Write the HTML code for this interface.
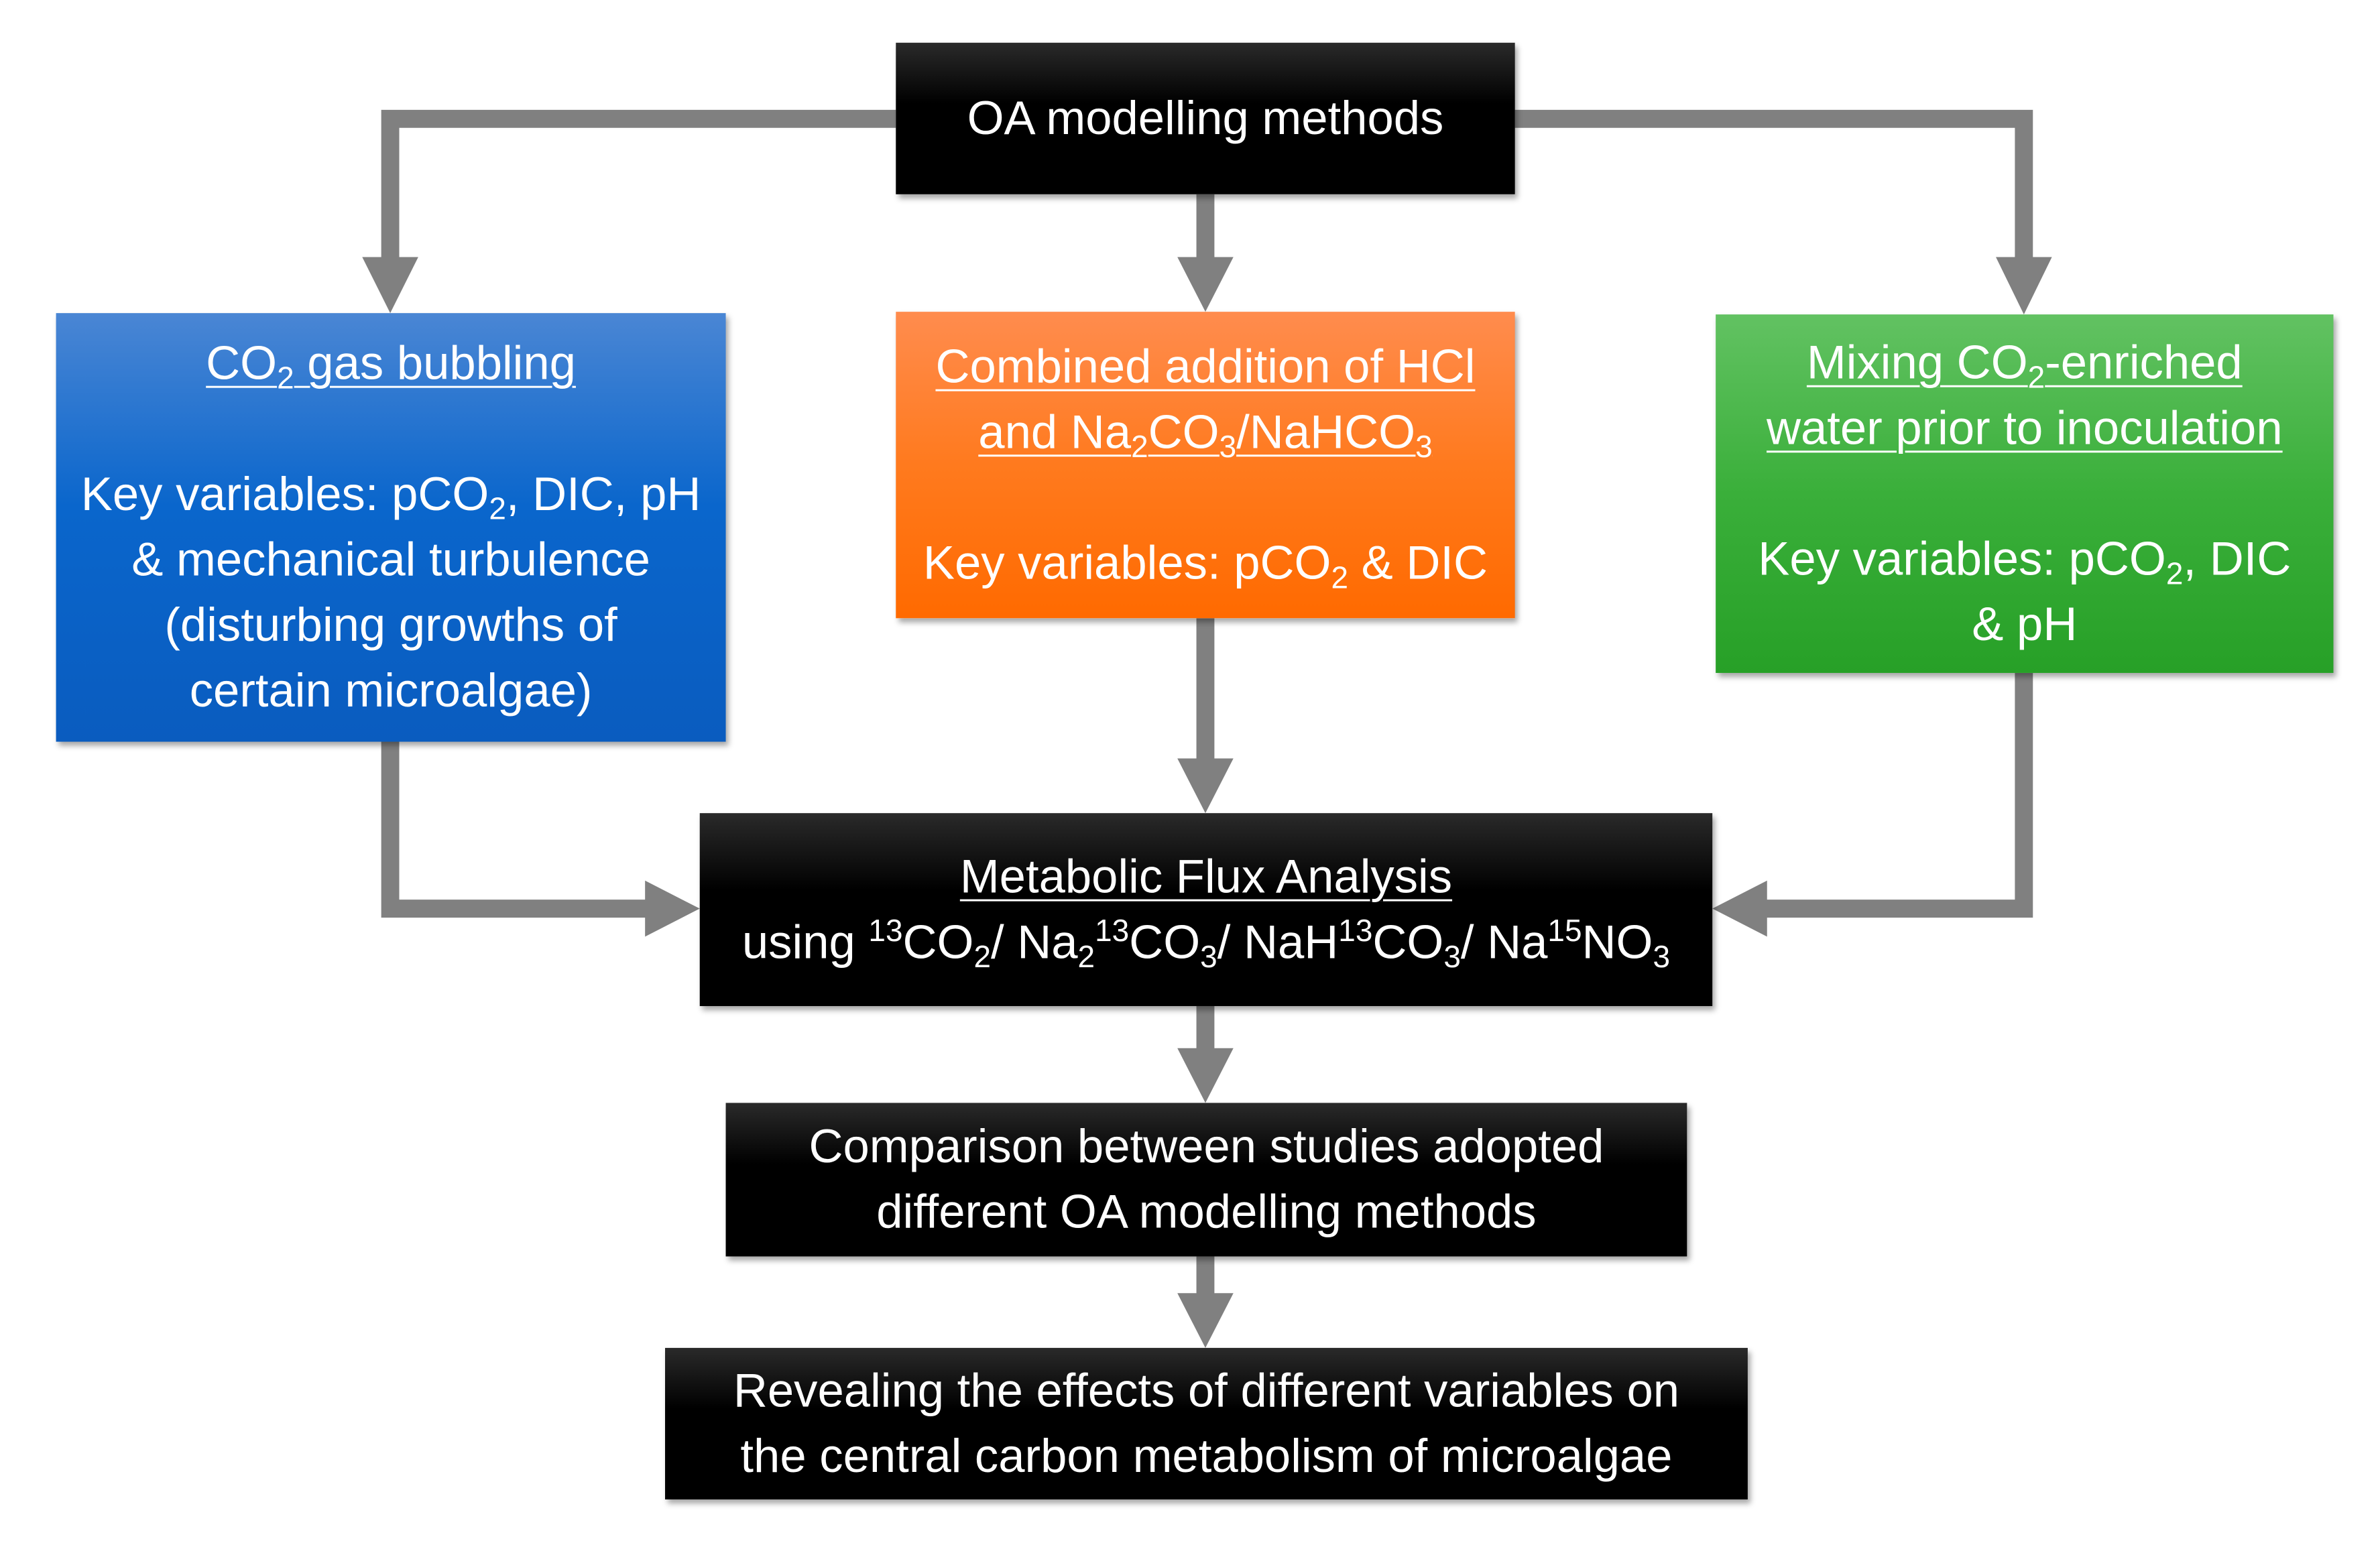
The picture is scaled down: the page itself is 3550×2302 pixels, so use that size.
<!DOCTYPE html>
<html><head><meta charset="utf-8"><style>
html,body{margin:0;padding:0;background:#fff;}
body{width:3550px;height:2302px;position:relative;overflow:hidden;font-family:"Liberation Sans",sans-serif;}
#w{position:absolute;left:0;top:0;width:3550px;height:2302px;transform:scale(0.995,0.996);transform-origin:0 0;}
.b{position:absolute;box-sizing:border-box;color:#fff;font-size:71px;line-height:98px;text-align:center;display:flex;flex-direction:column;justify-content:center;align-items:center;box-shadow:4px 6px 8px rgba(0,0,0,0.35);white-space:nowrap;}
.k{background:linear-gradient(#2a2a2a,#000 40%,#000);}
.u{text-decoration:underline;text-decoration-thickness:3px;text-underline-offset:10px;}
sub{font-size:0.65em;vertical-align:-0.3em;line-height:0;}
sup{font-size:0.65em;vertical-align:0.55em;line-height:0;}
svg{position:absolute;left:0;top:0;}
</style></head><body><div id="w">
<svg width="3550" height="2302">
<g fill="none" stroke="#808080" stroke-width="27">
<polyline points="1343,178 585,178 585,395"/>
<line x1="1807" y1="291" x2="1807" y2="395"/>
<polyline points="2271,178 3034,178 3034,395"/>
<line x1="1807" y1="926" x2="1807" y2="1142"/>
<polyline points="585,1111 585,1361 975,1361"/>
<polyline points="3034,1008 3034,1361 2641,1361"/>
<line x1="1807" y1="1507" x2="1807" y2="1580"/>
<line x1="1807" y1="1882" x2="1807" y2="1945"/>
</g>
<g fill="#808080">
<polygon points="543,385 627,385 585,469"/>
<polygon points="1765,385 1849,385 1807,467"/>
<polygon points="2992,385 3076,385 3034,471"/>
<polygon points="1765,1136 1849,1136 1807,1218"/>
<polygon points="967,1319 967,1403 1049,1361"/>
<polygon points="2649,1319 2649,1403 2567,1361"/>
<polygon points="1765,1570 1849,1570 1807,1652"/>
<polygon points="1765,1937 1849,1937 1807,2019"/>
</g>
</svg>
<div class="b k" style="left:1343px;top:64px;width:928px;height:227px;">OA modelling methods</div>
<div class="b" style="left:84px;top:469px;width:1004px;height:642px;background:linear-gradient(#4a86d4,#0a66cc 45%,#0a5cbf);">
<div class="u">CO<sub>2</sub> gas bubbling</div><div>&nbsp;</div>
<div>Key variables: pCO<sub>2</sub>, DIC, pH</div><div>&amp; mechanical turbulence</div><div>(disturbing growths of</div><div>certain microalgae)</div></div>
<div class="b" style="left:1343px;top:467px;width:928px;height:459px;background:linear-gradient(#ff8c4e,#ff7a1e 50%,#ff6a00);">
<div class="u">Combined addition of HCl</div><div class="u">and Na<sub>2</sub>CO<sub>3</sub>/NaHCO<sub>3</sub></div><div>&nbsp;</div>
<div>Key variables: pCO<sub>2</sub> &amp; DIC</div></div>
<div class="b" style="left:2572px;top:471px;width:926px;height:537px;background:linear-gradient(#62c262,#3aaf3a 50%,#27a027);">
<div class="u">Mixing CO<sub>2</sub>-enriched</div><div class="u">water prior to inoculation</div><div>&nbsp;</div>
<div>Key variables: pCO<sub>2</sub>, DIC</div><div>&amp; pH</div></div>
<div class="b k" style="left:1049px;top:1218px;width:1518px;height:289px;">
<div class="u">Metabolic Flux Analysis</div>
<div>using <sup>13</sup>CO<sub>2</sub>/ Na<sub>2</sub><sup>13</sup>CO<sub>3</sub>/ NaH<sup>13</sup>CO<sub>3</sub>/ Na<sup>15</sup>NO<sub>3</sub></div></div>
<div class="b k" style="left:1088px;top:1652px;width:1441px;height:230px;">
<div>Comparison between studies adopted</div><div>different OA modelling methods</div></div>
<div class="b k" style="left:997px;top:2019px;width:1623px;height:227px;">
<div>Revealing the effects of different variables on</div><div>the central carbon metabolism of microalgae</div></div>
</div></body></html>
